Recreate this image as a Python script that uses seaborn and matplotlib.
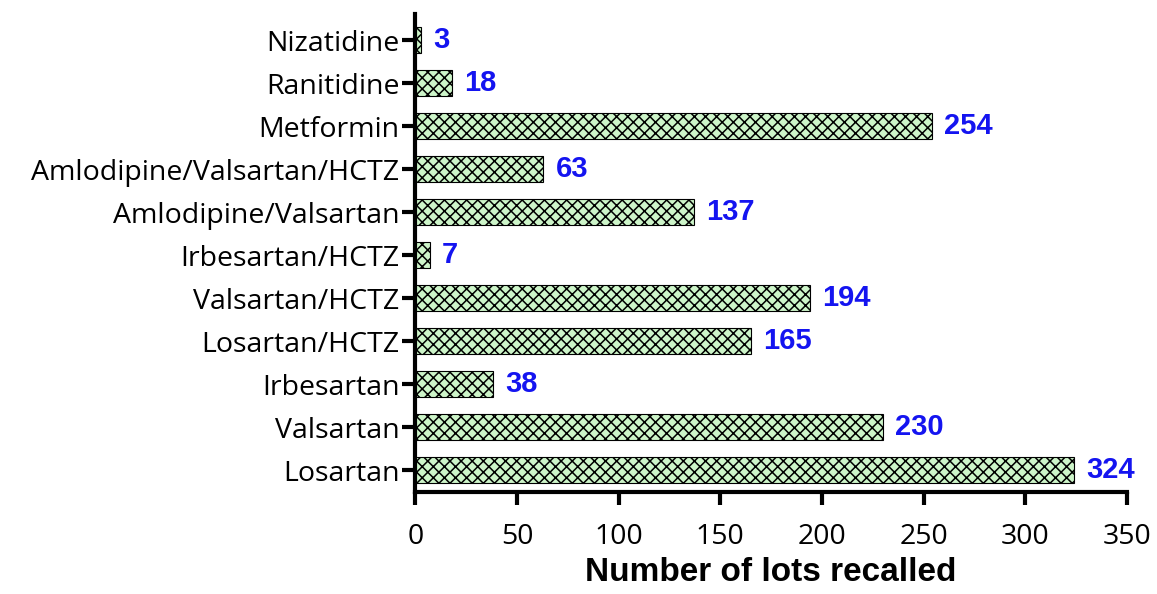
import pandas as pd
import numpy as np
import matplotlib.pyplot as plt
import seaborn as sns

drugs = ["Nizatidine", "Ranitidine", "Metformin", "Amlodipine/Valsartan/HCTZ",
         "Amlodipine/Valsartan", "Irbesartan/HCTZ", "Valsartan/HCTZ",
         "Losartan/HCTZ", "Irbesartan", "Valsartan", "Losartan"]
lots = [3, 18, 254, 63, 137, 7, 194, 165, 38, 230, 324]

df = pd.DataFrame({"drug": drugs, "lots": lots})

sns.set_style("ticks")
plt.rcParams['font.family'] = ['Open Sans', 'DejaVu Sans']
plt.rcParams['hatch.linewidth'] = 1.1

fig = plt.figure(figsize=(11.57, 5.94), dpi=100)
ax = fig.add_axes([0.359, 0.172, 0.615, 0.804])

sns.barplot(data=df, y="drug", x="lots", orient="h", color="#cdf5c9",
            width=0.6, edgecolor="black", linewidth=0.8, ax=ax, saturation=1)

for p in ax.patches:
    p.set_hatch("xxx")

for i, v in enumerate(lots):
    ax.text(v + 6, i, str(v), color="#1414f0", fontsize=21, fontweight="bold",
            va="center", ha="left", family=["Liberation Sans", "DejaVu Sans"])

ax.set_xlim(0, 350)
ax.set_ylim(10.5, -0.6)
ax.set_xticks(range(0, 351, 50))
ax.set_xlabel("Number of lots recalled", fontsize=24, fontweight="bold",
              color="black", family=["Liberation Sans", "DejaVu Sans"], labelpad=4)
ax.set_ylabel("")
ax.tick_params(axis="both", labelsize=20.5, width=3, length=9.5, color="black",
               labelcolor="black")
ax.tick_params(axis="x", pad=13)
ax.tick_params(axis="y", pad=2)
sns.despine(ax=ax)
for s in ["left", "bottom"]:
    ax.spines[s].set_linewidth(3)
    ax.spines[s].set_color("black")

fig.savefig("out.png", dpi=100)
